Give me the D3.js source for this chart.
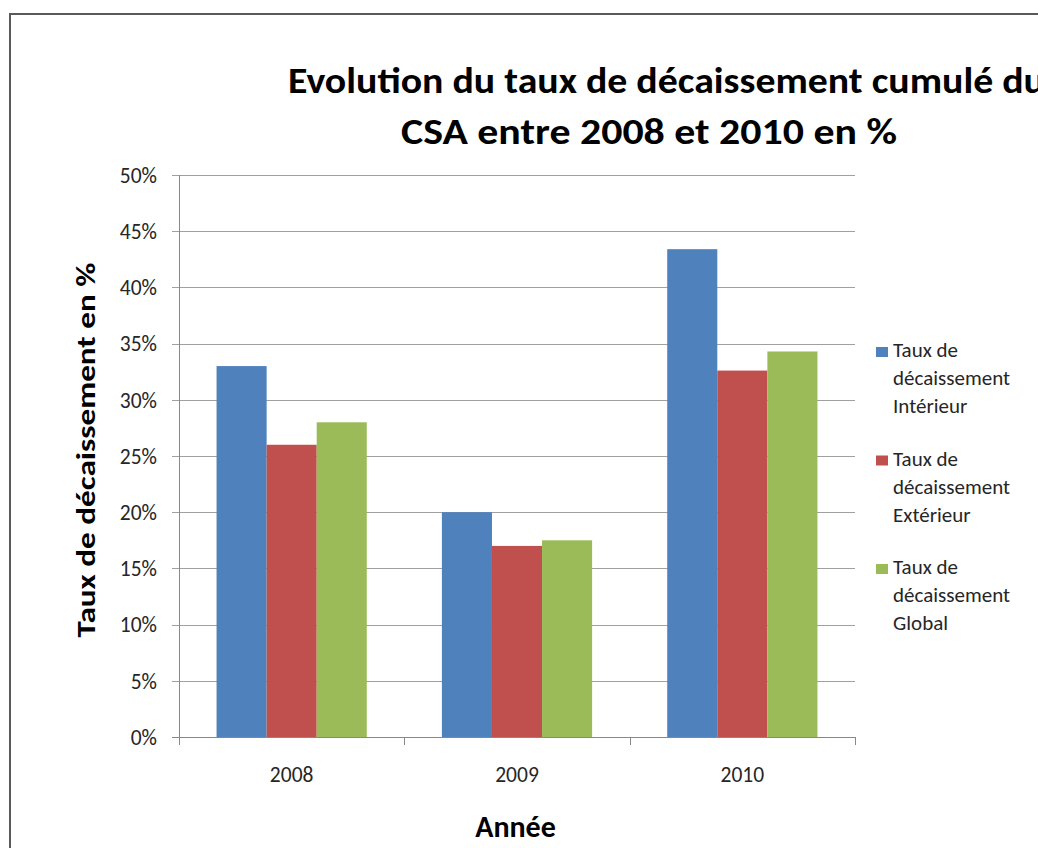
<!DOCTYPE html>
<html>
<head>
<meta charset="utf-8">
<script src="https://cdn.jsdelivr.net/npm/d3@7"></script>
<style>
	body { margin: 0; background: #fff; }
	svg { display: block; font-family: Carlito, Calibri, Lato, sans-serif; }
</style>
</head>
<body>
<div id="chart"></div>
<script>
// Data
const years = ["2008", "2009", "2010"];
const seriesNames = [
	["Taux de", "décaissement", "Intérieur"],
	["Taux de", "décaissement", "Extérieur"],
	["Taux de", "décaissement", "Global"]
];
const seriesColors = ["#4F81BD", "#C0504D", "#9BBB59"];
const interieur = [33.0, 20.0, 43.4];
const exterieur = [26.0, 17.0, 32.6];
const global = [28.0, 17.5, 34.3];
const yTicks = [0, 5, 10, 15, 20, 25, 30, 35, 40, 45, 50];

const allSeries = [interieur, exterieur, global];

const width = 1038, height = 848;
const plot = { left: 179, right: 855, top: 175, bottom: 737 };

const svg = d3.select("#chart").append("svg")
	.attr("width", width)
	.attr("height", height);

svg.append("rect").attr("width", width).attr("height", height).attr("fill", "#fff");

// Outer chart border (only top-left visible)
svg.append("path")
	.attr("d", `M10,${height} L10,14 L${width},14`)
	.attr("fill", "none")
	.attr("stroke", "#5a5a5a")
	.attr("stroke-width", 2);

// Scales
const x0 = d3.scaleBand().domain(years).range([plot.left, plot.right]);
const x1 = d3.scaleBand().domain(d3.range(allSeries.length))
	.range([0, x0.bandwidth()])
	.paddingInner(0)
	.paddingOuter(0.75);
const y = d3.scaleLinear().domain([0, 50]).range([plot.bottom, plot.top]);

// Gridlines
svg.append("g")
	.selectAll("line")
	.data(yTicks)
	.join("line")
	.attr("x1", plot.left - 7)
	.attr("x2", plot.right)
	.attr("y1", d => Math.round(y(d)) + 0.5)
	.attr("y2", d => Math.round(y(d)) + 0.5)
	.attr("stroke", d => d === 0 ? "#888" : "#a0a0a0")
	.attr("stroke-width", 1);

// Y tick labels
svg.append("g")
	.selectAll("text")
	.data(yTicks)
	.join("text")
	.attr("x", 157)
	.attr("y", d => y(d))
	.attr("dy", "0.36em")
	.attr("text-anchor", "end")
	.attr("fill", "#262626")
	.style("font-size", "21.5px")
	.text(d => d + "%");

// Bars
const groups = svg.append("g")
	.selectAll("g")
	.data(years)
	.join("g")
	.attr("transform", d => `translate(${x0(d)},0)`);

groups.selectAll("rect")
	.data((d, i) => allSeries.map((s, k) => ({ k: k, v: s[i] })))
	.join("rect")
	.attr("x", d => x1(d.k))
	.attr("width", x1.bandwidth())
	.attr("y", d => y(d.v))
	.attr("height", d => y(0) - y(d.v))
	.attr("fill", d => seriesColors[d.k]);

// Axis lines
svg.append("line")
	.attr("x1", plot.left + 0.5).attr("x2", plot.left + 0.5)
	.attr("y1", plot.top).attr("y2", plot.bottom + 8)
	.attr("stroke", "#888");

svg.append("line")
	.attr("x1", plot.left).attr("x2", plot.right)
	.attr("y1", plot.bottom + 0.5).attr("y2", plot.bottom + 0.5)
	.attr("stroke", "#888");

// X ticks at band boundaries
svg.append("g")
	.selectAll("line")
	.data(years)
	.join("line")
	.attr("x1", d => Math.round(x0(d) + x0.bandwidth()) + 0.5)
	.attr("x2", d => Math.round(x0(d) + x0.bandwidth()) + 0.5)
	.attr("y1", plot.bottom)
	.attr("y2", plot.bottom + 8)
	.attr("stroke", "#888");

// X labels
svg.append("g")
	.selectAll("text")
	.data(years)
	.join("text")
	.attr("x", d => x0(d) + x0.bandwidth() / 2)
	.attr("y", 782)
	.attr("text-anchor", "middle")
	.attr("fill", "#262626")
	.style("font-size", "21.5px")
	.text(d => d);

// Title
svg.append("text")
	.attr("x", 288)
	.attr("y", 93)
	.attr("textLength", 757)
	.attr("lengthAdjust", "spacingAndGlyphs")
	.style("font-size", "36px")
	.style("font-weight", "bold")
	.text("Evolution du taux de décaissement cumulé du");

svg.append("text")
	.attr("x", 401)
	.attr("y", 144)
	.attr("textLength", 496)
	.attr("lengthAdjust", "spacingAndGlyphs")
	.style("font-size", "36px")
	.style("font-weight", "bold")
	.text("CSA entre 2008 et 2010 en %");

// Axis titles
svg.append("text")
	.attr("transform", "translate(95,450) rotate(-90)")
	.attr("text-anchor", "middle")
	.attr("textLength", 375)
	.attr("lengthAdjust", "spacingAndGlyphs")
	.style("font-size", "26px")
	.style("font-weight", "bold")
	.text("Taux de décaissement en %");

svg.append("text")
	.attr("x", 515.5)
	.attr("y", 837)
	.attr("text-anchor", "middle")
	.style("font-size", "30px")
	.style("font-weight", "bold")
	.text("Année");

// Legend
const legend = svg.append("g")
	.selectAll("g")
	.data(seriesNames)
	.join("g")
	.attr("transform", (d, i) => `translate(876,${347 + i * 108.5})`);

legend.append("rect")
	.attr("width", 12)
	.attr("height", 10)
	.attr("fill", (d, i) => seriesColors[i]);

legend.append("text")
	.attr("x", 17)
	.attr("y", 10)
	.attr("fill", "#262626")
	.style("font-size", "21px")
	.selectAll("tspan")
	.data(d => d)
	.join("tspan")
	.attr("x", 17)
	.attr("dy", (d, i) => i === 0 ? 0 : 28)
	.text(d => d);
</script>
</body>
</html>
